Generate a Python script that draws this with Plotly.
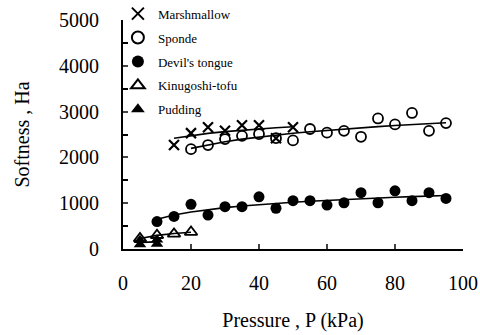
import numpy as np
import plotly.graph_objects as go

# ---- data ----
marsh_p = [15, 20, 25, 30, 35, 40, 45, 50]
marsh_h = [2270, 2530, 2660, 2580, 2700, 2700, 2420, 2660]

sponde_p = [20, 25, 30, 35, 40, 45, 50, 55, 60, 65, 70, 75, 80, 85, 90, 95]
sponde_h = [2180, 2270, 2400, 2470, 2510, 2420, 2370, 2620, 2540, 2580, 2450, 2850, 2720, 2970, 2580, 2750]

devil_p = [10, 15, 20, 25, 30, 35, 40, 45, 50, 55, 60, 65, 70, 75, 80, 85, 90, 95]
devil_h = [600, 710, 975, 740, 925, 925, 1140, 890, 1055, 1055, 960, 1010, 1230, 1010, 1270, 1055, 1230, 1105]

kinu_p = [5, 10, 15, 20]
kinu_h = [230, 300, 330, 370]

pudding_p = [5, 5, 10, 10]
pudding_h = [100, 190, 110, 200]

x_ticks = [0, 20, 40, 60, 80, 100]
y_ticks = [0, 1000, 2000, 3000, 4000, 5000]

FONT = "Liberation Serif, Times New Roman, serif"

series = [
    ("Marshmallow", marsh_p, marsh_h, "x-thin-open", 10, 2.2),
    ("Sponde", sponde_p, sponde_h, "circle-open", 10, 1.8),
    ("Devil's tongue", devil_p, devil_h, "circle", 11, 0),
    ("Kinugoshi-tofu", kinu_p, kinu_h, "triangle-up-open", 11, 1.8),
    ("Pudding", pudding_p, pudding_h, "triangle-up", 11, 0),
]

fig = go.Figure()

# fitted (log) trend lines computed from the data
for name, p, h, sym, size, lw in series:
    pa = np.array(p, dtype=float)
    ha = np.array(h, dtype=float)
    b, a = np.polyfit(np.log(pa), ha, 1)
    xs = np.unique(pa)
    fig.add_trace(go.Scatter(x=xs, y=a + b * np.log(xs), mode="lines",
                             line=dict(color="black", width=1.6),
                             showlegend=False, hoverinfo="skip"))

for i, (name, p, h, sym, size, lw) in enumerate(series):
    fig.add_trace(go.Scatter(
        x=p, y=h, mode="markers", name=name, legendgroup=f"g{i}",
        marker=dict(symbol=sym, size=size, color="black",
                    line=dict(color="black", width=lw)),
    ))

tick_font = dict(family=FONT, size=20, color="black")

fig.update_layout(
    width=480, height=335,
    margin=dict(l=123, r=17, t=20, b=86, autoexpand=False),
    paper_bgcolor="white", plot_bgcolor="white",
    font=dict(family=FONT, color="black", size=19),
    legend=dict(x=-0.015, y=1.093, xanchor="left", yanchor="top",
                bgcolor="rgba(0,0,0,0)", font=dict(family=FONT, size=13),
                tracegroupgap=4, itemsizing="constant"),
    xaxis=dict(range=[0, 100], tickvals=x_ticks, ticks="inside", ticklen=5,
               tickwidth=1.5, showline=True, linecolor="black", linewidth=2,
               showgrid=False, zeroline=False, ticklabelstandoff=15,
               tickfont=tick_font,
               title=dict(text="Pressure , P (kPa)", standoff=20,
                          font=dict(family=FONT, size=20))),
    yaxis=dict(range=[0, 5000], tickvals=y_ticks, ticks="inside", ticklen=5,
               tickwidth=1.5, showline=True, linecolor="black", linewidth=2,
               showgrid=False, zeroline=False, ticklabelstandoff=18,
               tickfont=tick_font,
               minor=dict(dtick=500, ticks="inside", ticklen=5, tickwidth=1.5,
                          tickcolor="black", showgrid=False),
               title=dict(text="Softness , Ha", standoff=24,
                          font=dict(family=FONT, size=20))),
)

fig.write_html("out.html")
